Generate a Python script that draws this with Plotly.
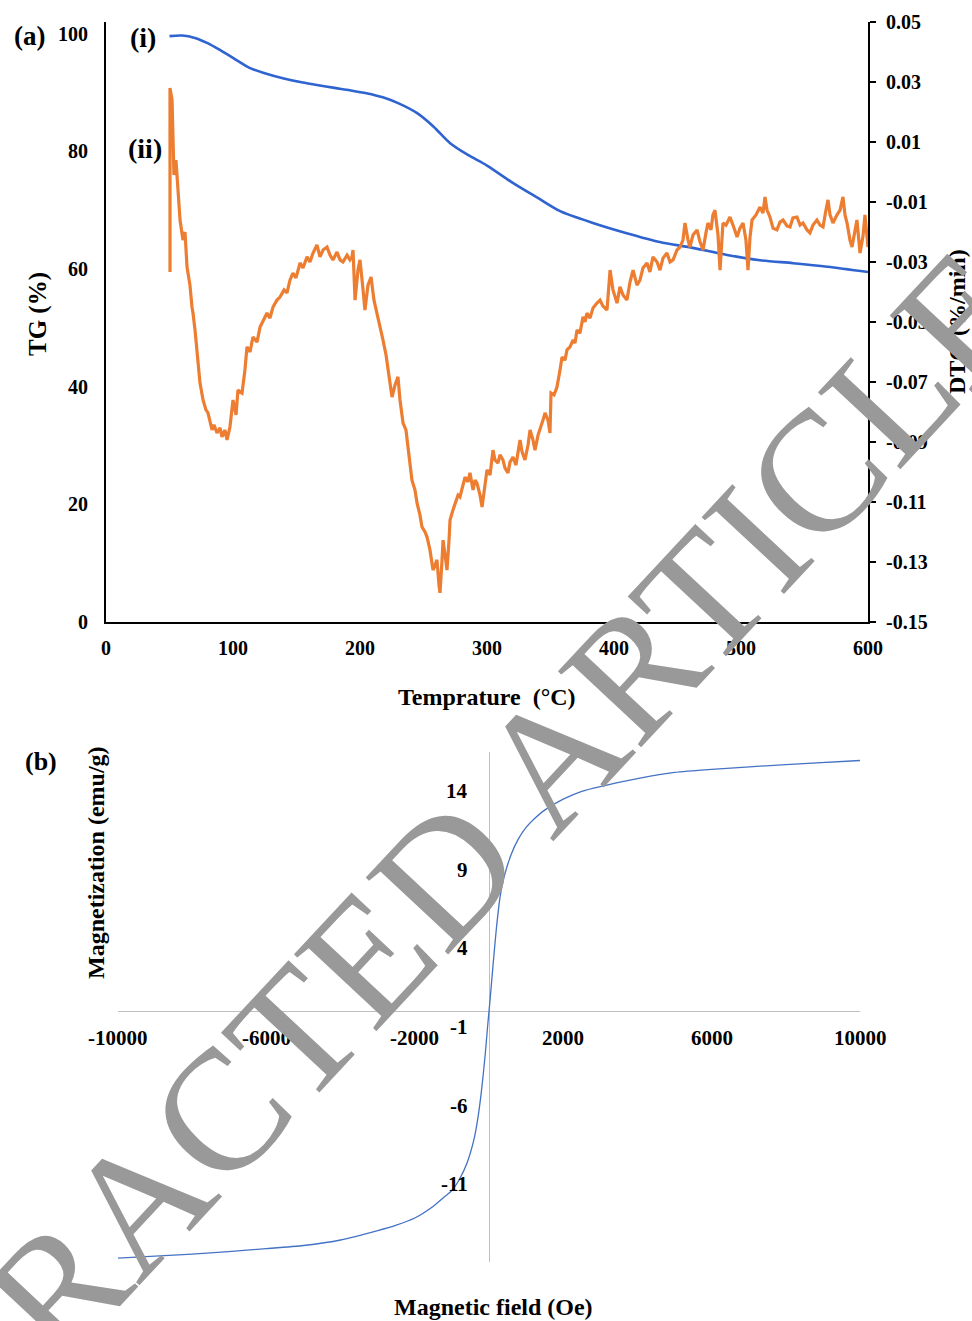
import plotly.graph_objects as go

W, H = 972, 1321

# ---------------- Panel (a): TG / DTG ----------------
tg_temp = [50, 60, 70, 80, 90, 100, 113, 125, 140, 155, 166, 180, 192, 205, 218, 230, 245, 258,
           271, 285, 300, 320, 340, 358, 384, 410, 436, 462, 489, 515, 541, 568, 600]
tg_val = [99.6, 99.7, 99.3, 98.4, 97.2, 95.9, 94.2, 93.3, 92.4, 91.7, 91.3, 90.8, 90.4, 89.9, 89.2, 88.2,
          86.5, 84.2, 81.4, 79.4, 77.6, 74.7, 72.1, 69.8, 67.8, 66.1, 64.6, 63.6, 62.4, 61.5, 61.0, 60.4, 59.5]

dtg_temp = [
    50.4, 50.4, 52.0, 53.5, 55.1, 58.3, 60.6, 62.2, 63.8, 66.1,
    67.7, 68.5, 70.1, 71.7, 74.0, 76.4, 78.7, 80.3, 81.9, 83.5,
    85.0, 87.4, 89.8, 91.3, 93.7, 95.3, 97.6, 100.0, 102.4, 103.9,
    107.1, 109.4, 111.0, 113.4, 115.7, 118.9, 121.3, 124.4, 126.8, 129.1,
    131.5, 134.6, 137.0, 140.2, 142.5, 144.9, 147.2, 149.6, 152.8, 155.1,
    158.3, 160.6, 163.0, 166.1, 168.5, 170.9, 174.0, 176.4, 178.7, 181.9,
    184.3, 186.6, 189.8, 192.1, 193.7, 194.5, 196.1, 198.4, 200.0, 202.4,
    203.9, 206.3, 208.7, 211.0, 213.4, 215.7, 218.1, 220.5, 222.0, 223.6,
    225.2, 227.6, 229.9, 231.5, 233.9, 236.2, 237.8, 239.4, 240.9, 243.3,
    244.9, 247.2, 248.8, 251.2, 252.8, 255.1, 257.5, 259.1, 260.6, 262.2,
    263.0, 264.6, 265.4, 267.0, 268.5, 270.1, 270.9, 273.2, 274.8, 277.2,
    278.7, 281.1, 282.7, 285.0, 286.6, 289.0, 290.6, 292.1, 294.5, 296.1,
    298.4, 300.0, 302.4, 304.7, 306.3, 308.7, 310.2, 312.6, 314.2, 316.5,
    318.1, 320.5, 322.8, 326.0, 327.6, 329.9, 332.3, 333.9, 336.2, 337.8,
    340.2, 341.7, 344.1, 345.7, 348.0, 349.6, 350.4, 352.8, 355.1, 357.5,
    359.1, 361.4, 363.0, 365.4, 367.7, 369.3, 370.9, 373.2, 375.6, 377.2,
    378.7, 381.1, 383.5, 386.6, 389.0, 391.3, 394.5, 396.9, 399.2, 402.4,
    404.7, 407.1, 410.2, 412.6, 415.0, 418.1, 420.5, 422.8, 426.0, 428.3,
    430.7, 433.9, 436.2, 438.6, 441.7, 444.1, 446.5, 449.6, 452.0, 454.3,
    455.9, 458.3, 459.8, 462.2, 465.4, 467.7, 470.1, 472.4, 474.0, 476.4,
    477.9, 479.5, 481.9, 483.5, 485.0, 485.8, 488.2, 491.3, 493.7, 496.9,
    499.2, 501.6, 503.9, 505.5, 507.1, 508.7, 511.8, 515.0, 517.3, 518.9,
    520.5, 522.8, 525.2, 528.3, 530.7, 533.1, 536.2, 538.6, 540.9, 544.1,
    546.5, 548.8, 552.0, 554.3, 556.7, 559.8, 562.2, 564.6, 566.9, 568.5,
    570.1, 572.4, 575.6, 578.0, 580.3, 581.9, 583.5, 585.8, 587.4, 589.8,
    591.3, 593.7, 596.1, 597.6, 600.0,
]
dtg_val = [
    -0.0333, 0.0280, 0.0240, -0.0010, 0.0040, -0.0160, -0.0227, -0.0200, -0.0317, -0.0377,
    -0.0450, -0.0470, -0.0527, -0.0603, -0.0703, -0.0760, -0.0793, -0.0803, -0.0833, -0.0860,
    -0.0843, -0.0870, -0.0853, -0.0883, -0.0860, -0.0893, -0.0850, -0.0760, -0.0810, -0.0727,
    -0.0737, -0.0660, -0.0583, -0.0600, -0.0550, -0.0567, -0.0517, -0.0493, -0.0470, -0.0487,
    -0.0450, -0.0427, -0.0417, -0.0393, -0.0403, -0.0360, -0.0337, -0.0353, -0.0303, -0.0320,
    -0.0283, -0.0300, -0.0270, -0.0243, -0.0283, -0.0260, -0.0250, -0.0277, -0.0293, -0.0267,
    -0.0293, -0.0300, -0.0277, -0.0293, -0.0283, -0.0260, -0.0427, -0.0327, -0.0293, -0.0393,
    -0.0460, -0.0377, -0.0350, -0.0427, -0.0470, -0.0510, -0.0560, -0.0610, -0.0660, -0.0710,
    -0.0750, -0.0710, -0.0683, -0.0760, -0.0837, -0.0860, -0.0917, -0.0960, -0.1027, -0.1060,
    -0.1103, -0.1143, -0.1183, -0.1200, -0.1217, -0.1260, -0.1327, -0.1310, -0.1293, -0.1377,
    -0.1403, -0.1293, -0.1227, -0.1277, -0.1327, -0.1227, -0.1160, -0.1127, -0.1103, -0.1077,
    -0.1083, -0.1043, -0.1017, -0.1033, -0.1003, -0.1060, -0.1027, -0.1037, -0.1077, -0.1117,
    -0.1043, -0.0993, -0.1010, -0.0927, -0.0960, -0.0970, -0.0943, -0.0960, -0.0987, -0.1003,
    -0.0967, -0.0950, -0.0977, -0.0893, -0.0933, -0.0960, -0.0910, -0.0860, -0.0893, -0.0927,
    -0.0877, -0.0860, -0.0827, -0.0803, -0.0827, -0.0870, -0.0737, -0.0743, -0.0717, -0.0660,
    -0.0617, -0.0627, -0.0593, -0.0583, -0.0560, -0.0570, -0.0527, -0.0537, -0.0483, -0.0500,
    -0.0470, -0.0487, -0.0453, -0.0437, -0.0427, -0.0447, -0.0460, -0.0327, -0.0393, -0.0437,
    -0.0383, -0.0410, -0.0427, -0.0367, -0.0327, -0.0377, -0.0360, -0.0320, -0.0303, -0.0333,
    -0.0283, -0.0300, -0.0327, -0.0287, -0.0270, -0.0300, -0.0293, -0.0260, -0.0250, -0.0227,
    -0.0170, -0.0227, -0.0250, -0.0210, -0.0193, -0.0233, -0.0260, -0.0203, -0.0170, -0.0193,
    -0.0143, -0.0127, -0.0210, -0.0327, -0.0227, -0.0170, -0.0177, -0.0150, -0.0177, -0.0217,
    -0.0187, -0.0170, -0.0227, -0.0327, -0.0217, -0.0160, -0.0143, -0.0117, -0.0137, -0.0083,
    -0.0127, -0.0150, -0.0187, -0.0193, -0.0167, -0.0160, -0.0180, -0.0183, -0.0153, -0.0150,
    -0.0177, -0.0170, -0.0193, -0.0203, -0.0177, -0.0160, -0.0177, -0.0183, -0.0127, -0.0093,
    -0.0143, -0.0170, -0.0143, -0.0127, -0.0083, -0.0143, -0.0170, -0.0227, -0.0250, -0.0193,
    -0.0160, -0.0270, -0.0213, -0.0143, -0.0250,
]

a_xticks = [0, 100, 200, 300, 400, 500, 600]
a_yticks = [0, 20, 40, 60, 80, 100]
a_y2ticks = [-0.15, -0.13, -0.11, -0.09, -0.07, -0.05, -0.03, -0.01, 0.01, 0.03, 0.05]
a_y2labels = ["-0.15", "-0.13", "-0.11", "-0.09", "-0.07", "-0.05", "-0.03", "-0.01",
              "0.01", "0.03", "0.05"]

# ---------------- Panel (b): magnetization ----------------
field = [-10000, -8000, -6000, -5000, -4000, -3000, -2500, -2000, -1500, -1200, -1000, -800, -600,
         -400, -300, -200, -100, -50, 0, 50, 100, 200, 300, 400, 600, 800, 1000, 1200, 1500, 2000,
         2500, 3000, 4000, 5000, 6000, 8000, 10000]
magnet = [-15.7, -15.45, -15.1, -14.9, -14.55, -13.95, -13.6, -13.15, -12.4, -11.8, -11.4, -10.7, -9.7,
          -8.1, -6.8, -5.0, -2.7, -1.3, 0.0, 1.3, 2.7, 5.3, 7.3, 8.5, 10.0, 11.0, 11.7, 12.2, 12.8, 13.5,
          14.0, 14.3, 14.8, 15.2, 15.4, 15.7, 15.96]

b_xticks = [-10000, -6000, -2000, 2000, 6000, 10000]
b_yticks = [-16, -11, -6, -1, 4, 9, 14]

SERIF = "Liberation Serif"


def bold(size):
    return dict(family=SERIF, size=size, color="black", weight="bold")


fig = go.Figure()
fig.add_trace(go.Scatter(x=tg_temp, y=tg_val, xaxis="x", yaxis="y", mode="lines",
                         line=dict(color="#2F63D0", width=2.6, shape="spline", smoothing=0.8),
                         showlegend=False, hoverinfo="skip"))
fig.add_trace(go.Scatter(x=dtg_temp, y=dtg_val, xaxis="x", yaxis="y2", mode="lines",
                         line=dict(color="#ED7D31", width=3.2),
                         showlegend=False, hoverinfo="skip"))
fig.add_trace(go.Scatter(x=field, y=magnet, xaxis="x3", yaxis="y3", mode="lines",
                         line=dict(color="#4472C4", width=1.3, shape="spline", smoothing=0.6),
                         showlegend=False, hoverinfo="skip"))

anns = []
# panel (b) tick labels placed at the crossing axes
for v in b_xticks:
    anns.append(dict(x=v, y=0, xref="x3", yref="y3", text=str(v), showarrow=False,
                     yshift=-27, font=bold(21)))
for v in b_yticks:
    anns.append(dict(x=0, y=v, xref="x3", yref="y3", text=str(v), showarrow=False,
                     xanchor="right", xshift=-19, font=bold(21)))


def pt(px, py, text, size, angle=0, **kw):
    d = dict(x=px / W, y=1 - py / H, xref="paper", yref="paper", text=text, showarrow=False,
             textangle=angle, font=bold(size), xanchor="center", yanchor="middle")
    d.update(kw)
    return d


anns += [
    pt(29, 36, "(a)", 27),
    pt(143, 37, "(i)", 28),
    pt(145, 148, "(ii)", 28),
    pt(38, 314, "TG (%)", 25, -90),
    pt(957, 322, "DTG (%/min)", 24, -90),
    pt(487, 697, "Temprature\u00a0 (°C)", 24),
    pt(41, 761, "(b)", 26),
    pt(96, 863, "Magnetization (emu/g)", 24, -90),
    pt(493, 1307, "Magnetic field (Oe)", 24),
]
# watermark
anns.append(dict(x=397 / W, y=1 - 924 / H, xref="paper", yref="paper", text="RETRACTED ARTICLE",
                 showarrow=False, textangle=-47, xanchor="center", yanchor="middle",
                 font=dict(family=SERIF, size=172, color="#999999")))

fig.update_layout(
    width=W, height=H, margin=dict(l=0, r=0, t=0, b=0),
    paper_bgcolor="white", plot_bgcolor="white",
    xaxis=dict(domain=[106 / W, 868 / W], range=[0, 600], tickvals=a_xticks, showline=True,
               linecolor="black", linewidth=2, ticks="", showgrid=False, zeroline=False,
               tickfont=bold(20), ticklabelstandoff=7, anchor="y", automargin=False),
    yaxis=dict(domain=[1 - 622 / H, 1 - 22 / H], range=[0, 102], tickvals=a_yticks, showline=True,
               linecolor="black", linewidth=2, ticks="", showgrid=False, zeroline=False,
               tickfont=bold(20), ticklabelstandoff=12, anchor="x", automargin=False),
    yaxis2=dict(overlaying="y", side="right", range=[-0.15, 0.05], tickvals=a_y2ticks,
                ticktext=a_y2labels, showline=True, linecolor="black", linewidth=2, ticks="outside",
                ticklen=6, tickwidth=2, tickcolor="black", showgrid=False, zeroline=False,
                tickfont=bold(20), ticklabelstandoff=6, anchor="x", automargin=False),
    xaxis3=dict(domain=[118 / W, 860 / W], range=[-10000, 10000], showline=False,
                showticklabels=False, ticks="", showgrid=False, zeroline=True,
                zerolinecolor="#BFBFBF", zerolinewidth=1, anchor="y3", automargin=False),
    yaxis3=dict(domain=[1 - 1262 / H, 1 - 752 / H], range=[-15.95, 16.5], showline=False,
                showticklabels=False, ticks="", showgrid=False, zeroline=True,
                zerolinecolor="#BFBFBF", zerolinewidth=1, anchor="x3", automargin=False),
    annotations=anns,
)

fig.write_html(
    "out.html",
    config={"displayModeBar": False},
    post_script="document.body.style.margin='0';document.body.style.overflow='hidden';",
)
